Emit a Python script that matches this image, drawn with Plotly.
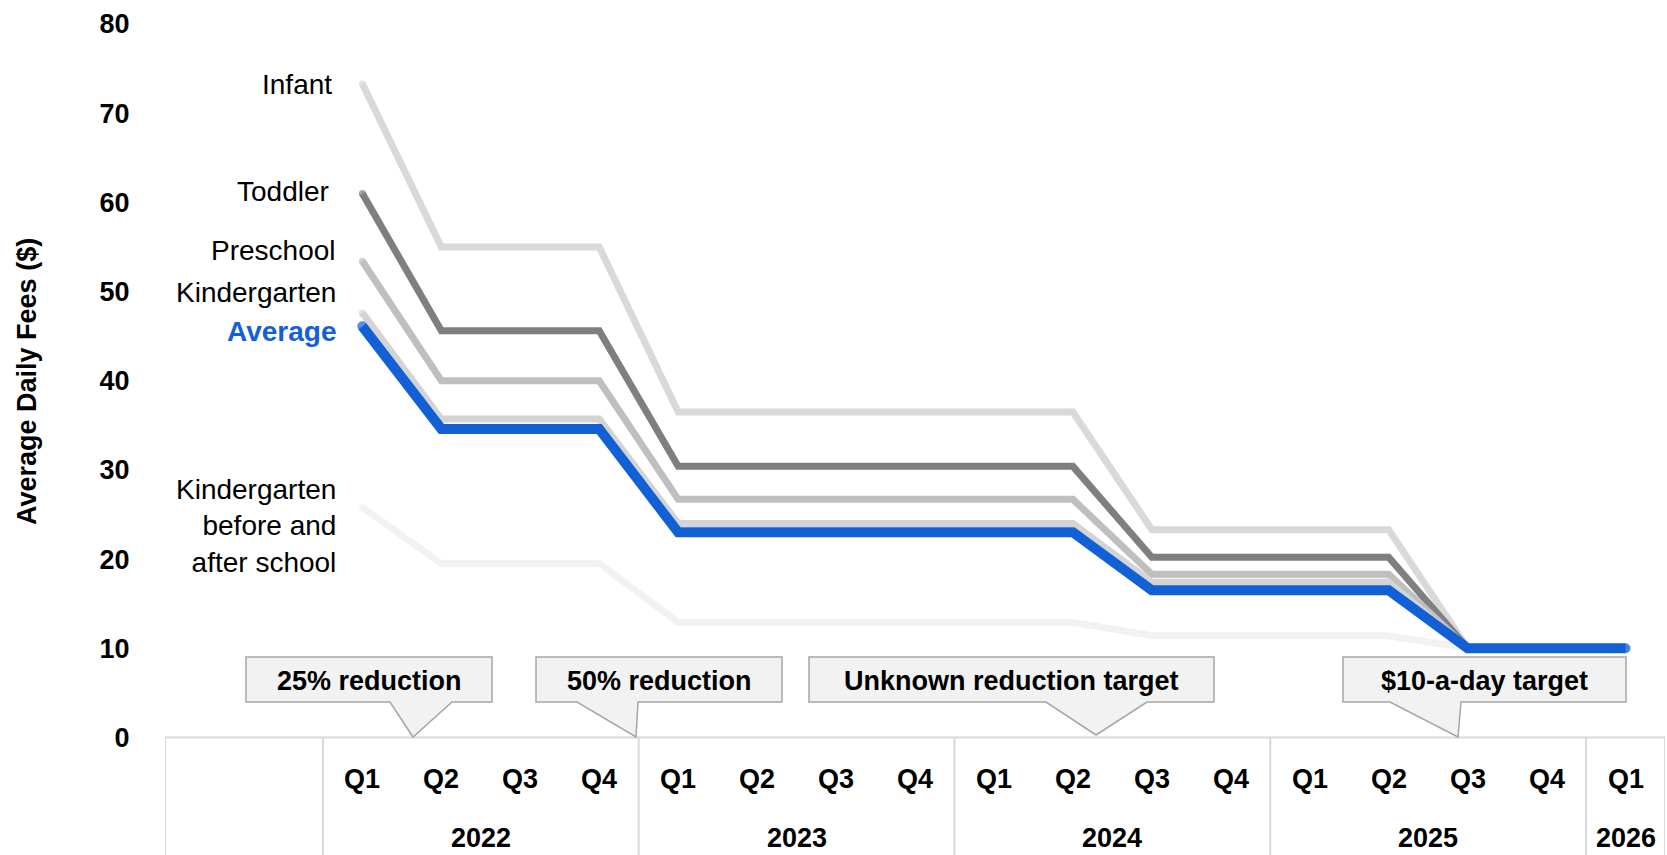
import plotly.graph_objects as go

# ---------------- data ----------------
quarters = ["Q1", "Q2", "Q3", "Q4"] * 4 + ["Q1"]
years = ["2022", "2023", "2024", "2025", "2026"]
year_spans = [4, 4, 4, 4, 1]

infant = [73.3, 55.0, 55.0, 55.0, 36.5, 36.5, 36.5, 36.5, 36.5, 36.5, 23.3, 23.3, 23.3, 23.3, 10.0, 10.0, 10.0]
toddler = [61.0, 45.6, 45.6, 45.6, 30.4, 30.4, 30.4, 30.4, 30.4, 30.4, 20.2, 20.2, 20.2, 20.2, 10.0, 10.0, 10.0]
preschool = [53.4, 40.0, 40.0, 40.0, 26.7, 26.7, 26.7, 26.7, 26.7, 26.7, 18.3, 18.3, 18.3, 18.3, 10.0, 10.0, 10.0]
kindergarten = [47.6, 35.7, 35.7, 35.7, 24.0, 24.0, 24.0, 24.0, 24.0, 24.0, 17.4, 17.4, 17.4, 17.4, 10.0, 10.0, 10.0]
average = [46.1, 34.6, 34.6, 34.6, 23.0, 23.0, 23.0, 23.0, 23.0, 23.0, 16.5, 16.5, 16.5, 16.5, 10.0, 10.0, 10.0]
before_after = [25.8, 19.5, 19.5, 19.5, 12.9, 12.9, 12.9, 12.9, 12.9, 12.9, 11.4, 11.4, 11.4, 11.4, 10.0, 10.0, 10.0]

y_ticks = [0, 10, 20, 30, 40, 50, 60, 70, 80]

callout_texts = ["25% reduction", "50% reduction", "Unknown reduction target", "$10-a-day target"]

# ---------------- geometry helpers ----------------
W, H = 1667, 855
L_M, R_M, T_M, B_M = 165, 2, 24, 0
X_MIN, X_MAX = -2.5, 16.5
Y_MIN, Y_MAX = -13.18, 80
x_scale = (W - L_M - R_M) / (X_MAX - X_MIN)
y_scale = (H - T_M - B_M) / (Y_MAX - Y_MIN)


def px2x(px):
    return (px - L_M) / x_scale + X_MIN


def py2y(py):
    return Y_MAX - (py - T_M) / y_scale


def px2paper(px):
    return (px - L_M) / (W - L_M - R_M)


FONT = "Liberation Sans, Arial, sans-serif"
BLUE = "#1160d6"
GRID = "#d9d9d9"

xs = list(range(len(quarters)))

series = [
    ("Kindergarten before and after school", before_after, "#f2f2f2", 7),
    ("Infant", infant, "#d9d9d9", 7),
    ("Toddler", toddler, "#7f7f7f", 7),
    ("Preschool", preschool, "#bfbfbf", 7),
    ("Kindergarten", kindergarten, "#d4d4d4", 7),
    ("Average", average, BLUE, 10),
]

fig = go.Figure()
for name, vals, color, w in series:
    sizes = [w] + [0] * (len(vals) - 2) + [w]
    fig.add_trace(go.Scatter(
        x=xs, y=vals, mode="lines+markers", name=name,
        line=dict(color=color, width=w),
        marker=dict(color=color, size=sizes, line=dict(width=0)),
        hoverinfo="skip", showlegend=False,
    ))

shapes = []
# table grid
shapes.append(dict(type="line", xref="x", yref="y", x0=X_MIN, x1=X_MAX, y0=0, y1=0,
                   line=dict(color=GRID, width=2), layer="below"))
bounds = [X_MIN, -0.5]
acc = -0.5
for s in year_spans:
    acc += s
    bounds.append(acc)
for b in bounds:
    shapes.append(dict(type="line", xref="x", yref="y", x0=b, x1=b, y0=0, y1=Y_MIN,
                       line=dict(color=GRID, width=2), layer="below"))

annotations = []
# quarter labels
for i, q in enumerate(quarters):
    annotations.append(dict(x=i, y=py2y(779), xref="x", yref="y", text=q, showarrow=False,
                            font=dict(family=FONT, size=27, color="#000", weight="bold"),
                            xanchor="center", yanchor="middle"))
# year labels
start = 0
for yr, s in zip(years, year_spans):
    annotations.append(dict(x=start + (s - 1) / 2, y=py2y(838), xref="x", yref="y", text=yr,
                            showarrow=False,
                            font=dict(family=FONT, size=27, color="#000", weight="bold"),
                            xanchor="center", yanchor="middle"))
    start += s

# series labels (right aligned, left of first point)
label_pos = [
    ("Infant", 334, 84, "#000", "normal"),
    ("Toddler", 331, 191, "#000", "normal"),
    ("Preschool", 338, 250, "#000", "normal"),
    ("Kindergarten", 338, 292, "#000", "normal"),
    ("Average", 338, 331, BLUE, "bold"),
    ("Kindergarten<br>before and<br>after school", 338, 526, "#000", "normal"),
]
for txt, rx, cy, col, wt in label_pos:
    annotations.append(dict(x=px2x(rx), y=py2y(cy), xref="x", yref="y", text=txt,
                            showarrow=False, align="right",
                            font=dict(family=FONT, size=28, color=col, weight=wt),
                            xanchor="right", yanchor="middle"))

# y axis title (paper x so it is not hidden outside the x range)
annotations.append(dict(x=px2paper(27), y=py2y(382), xref="paper", yref="y",
                        text="Average Daily Fees ($)", textangle=-90, showarrow=False,
                        font=dict(family=FONT, size=27, color="#000", weight="bold"),
                        xanchor="center", yanchor="middle"))

# callouts: box (left, right, top, bottom) in px, pointer (baseL, baseR, tipx, tipy)
callout_geom = [
    ((246, 492, 657, 702), (390, 452, 413, 737)),
    ((536, 782, 657, 702), (577, 638, 636, 737)),
    ((809, 1214, 657, 702), (1046, 1147, 1096, 735)),
    ((1343, 1626, 657, 702), (1390, 1461, 1458, 737)),
]
for txt, (box, ptr) in zip(callout_texts, callout_geom):
    l, r, t, b = box
    bl, br, tx, ty = ptr
    pts = [(l, t), (r, t), (r, b), (br, b), (tx, ty), (bl, b), (l, b)]
    path = "M " + " L ".join(f"{px2x(px):.4f},{py2y(py):.4f}" for px, py in pts) + " Z"
    shapes.append(dict(type="path", xref="x", yref="y", path=path,
                       fillcolor="#f2f2f2", line=dict(color="#a6a6a6", width=1.5),
                       layer="above"))
    annotations.append(dict(x=px2x((l + r) / 2), y=py2y((t + b) / 2 + 1), xref="x", yref="y",
                            text=txt, showarrow=False,
                            font=dict(family=FONT, size=27, color="#000", weight="bold"),
                            xanchor="center", yanchor="middle"))

fig.update_layout(
    width=W, height=H,
    margin=dict(l=L_M, r=R_M, t=T_M, b=B_M, pad=0),
    plot_bgcolor="white", paper_bgcolor="white",
    shapes=shapes, annotations=annotations,
    xaxis=dict(range=[X_MIN, X_MAX], showgrid=False, zeroline=False, showline=False,
               showticklabels=False, ticks="", fixedrange=True),
    yaxis=dict(range=[Y_MIN, Y_MAX], tickvals=y_ticks, showgrid=False, zeroline=False,
               showline=False, ticks="outside", ticklen=29, tickcolor="rgba(0,0,0,0)",
               tickfont=dict(family=FONT, size=27, color="#000", weight="bold"),
               fixedrange=True),
)

fig.write_html(
    "out.html",
    config={"displayModeBar": False, "staticPlot": True},
    post_script="document.body.style.margin='0';document.body.style.overflow='hidden';",
)
